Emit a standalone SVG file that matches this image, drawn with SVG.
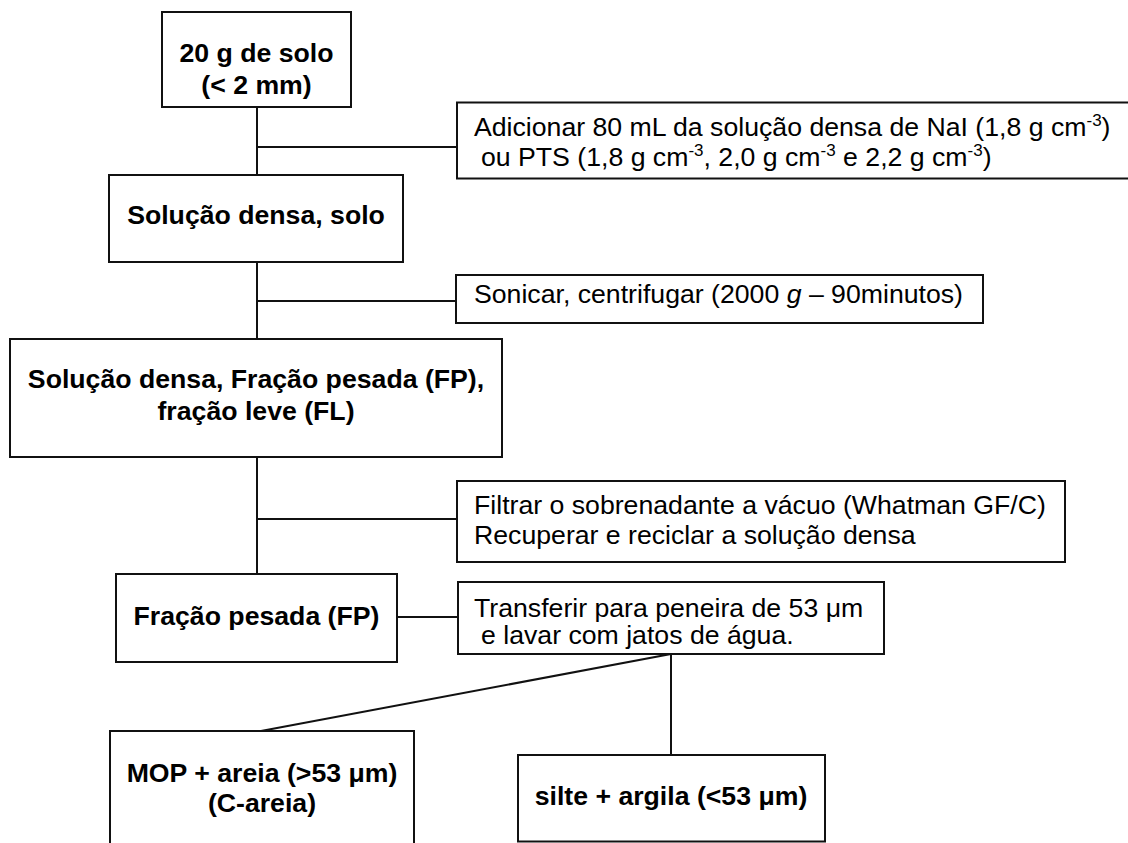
<svg xmlns="http://www.w3.org/2000/svg" width="1128" height="843" viewBox="0 0 1128 843">
<style>
.box{fill:#fff;stroke:#111;stroke-width:2}
.ln{fill:none;stroke:#111;stroke-width:2}
.b{font-family:"Liberation Sans",Arial,sans-serif;font-weight:bold;font-size:26.67px;fill:#000;text-anchor:middle}
.r{font-family:"Liberation Sans",Arial,sans-serif;font-size:26.67px;fill:#000}
.sup{font-size:17px}
</style>
<rect width="1128" height="843" fill="#fff"/>
<g id="connectors">
<line class="ln" x1="257" y1="107" x2="257" y2="175"/>
<line class="ln" x1="257" y1="147" x2="457" y2="147"/>
<line class="ln" x1="257" y1="262" x2="257" y2="339"/>
<line class="ln" x1="257" y1="301" x2="456" y2="301"/>
<line class="ln" x1="257" y1="457" x2="257" y2="574"/>
<line class="ln" x1="257" y1="519" x2="457" y2="519"/>
<line class="ln" x1="397" y1="617" x2="458" y2="617"/>
<line class="ln" x1="671" y1="654" x2="261" y2="731"/>
<line class="ln" x1="671" y1="654" x2="671" y2="755"/>
</g>
<g id="n1">
<rect class="box" x="162" y="12" width="189" height="95"/>
<text class="b" x="256.5" y="62">20 g de solo</text>
<text class="b" x="256.5" y="94">(&lt; 2 mm)</text>
</g>
<g id="n_adicionar">
<rect class="box" x="457" y="102.5" width="690" height="76"/>
<text class="r" x="474" y="136">Adicionar 80 mL da solução densa de NaI (1,8 g cm<tspan class="sup" dy="-10">-3</tspan><tspan dy="10">)</tspan></text>
<text class="r" x="481" y="166">ou PTS (1,8 g cm<tspan class="sup" dy="-10">-3</tspan><tspan dy="10">, 2,0 g cm</tspan><tspan class="sup" dy="-10">-3</tspan><tspan dy="10"> e 2,2 g cm</tspan><tspan class="sup" dy="-10">-3</tspan><tspan dy="10">)</tspan></text>
</g>
<g id="n2">
<rect class="box" x="109" y="175" width="294" height="87"/>
<text class="b" x="256" y="224">Solução densa, solo</text>
</g>
<g id="n_sonicar">
<rect class="box" x="456" y="275" width="527" height="48"/>
<text class="r" x="474" y="303">Sonicar, centrifugar (2000 <tspan font-style="italic">g</tspan> – 90minutos)</text>
</g>
<g id="n3">
<rect class="box" x="10" y="339" width="492" height="118"/>
<text class="b" x="256" y="388">Solução densa, Fração pesada (FP),</text>
<text class="b" x="256" y="420">fração leve (FL)</text>
</g>
<g id="n_filtrar">
<rect class="box" x="457" y="481" width="608" height="81"/>
<text class="r" x="474" y="514">Filtrar o sobrenadante a vácuo (Whatman GF/C)</text>
<text class="r" x="474" y="544">Recuperar e reciclar a solução densa</text>
</g>
<g id="n_fp">
<rect class="box" x="116" y="574" width="281" height="88"/>
<text class="b" x="256.5" y="625">Fração pesada (FP)</text>
</g>
<g id="n_transferir">
<rect class="box" x="458" y="582" width="426" height="72"/>
<text class="r" x="474" y="617">Transferir para peneira de 53 μm</text>
<text class="r" x="481" y="644">e lavar com jatos de água.</text>
</g>
<g id="n_mop">
<rect class="box" x="110" y="731" width="304" height="130"/>
<text class="b" x="262" y="782">MOP + areia (&gt;53 μm)</text>
<text class="b" x="262" y="812">(C-areia)</text>
</g>
<g id="n_silte">
<rect class="box" x="518" y="755" width="307" height="86.5"/>
<text class="b" x="671" y="805">silte + argila (&lt;53 μm)</text>
</g>
</svg>
